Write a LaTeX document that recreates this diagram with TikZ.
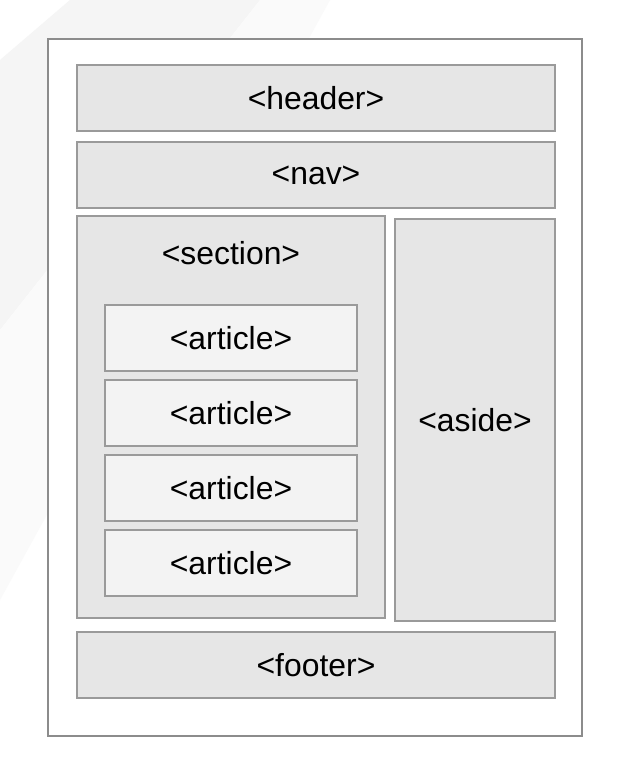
\documentclass[tikz,border=0pt]{standalone}
\usepackage{fontspec}
\setmainfont{Liberation Sans}
\definecolor{boxfill}{HTML}{E6E6E6}
\definecolor{artfill}{HTML}{F3F3F3}
\definecolor{boxline}{HTML}{9A9A9A}
\definecolor{frameline}{HTML}{8C8C8C}
\definecolor{bgshade}{HTML}{F5F5F5}
\definecolor{bgshadeb}{HTML}{FAFAFA}
\begin{document}
\begin{tikzpicture}[x=1bp,y=-1bp,
  box/.style={draw=boxline, fill=boxfill, line width=1.8bp, rectangle, inner sep=0pt, outer sep=0pt},
  artbox/.style={box, fill=artfill},
  lbl/.style={font=\fontsize{32}{36}\selectfont, text=black, inner sep=0pt}]
\useasboundingbox (0,0) rectangle (634,764);
\fill[white] (0,0) rectangle (634,764);
% faint background shading
\fill[bgshade] (0,60) -- (70,0) -- (260,0) -- (0,330) -- cycle;
\fill[bgshadeb] (0,330) -- (260,0) -- (330,0) -- (0,600) -- cycle;
% outer frame
\node[draw=frameline, fill=white, line width=2.6bp, minimum width=534bp, minimum height=697bp, inner sep=0pt] (page) at (315,387.5) {};
% header, nav, footer
\node[box, minimum width=478bp, minimum height=66bp] (header) at (316,98) {};
\node[lbl] (headert) at (header.center) {<header>};
\node[box, minimum width=478bp, minimum height=66bp] (nav) at (316,175) {};
\node[lbl] (navt) at (nav.center) {<nav>};
\node[box, minimum width=478bp, minimum height=66bp] (footer) at (316,665) {};
\node[lbl] (footert) at (footer.center) {<footer>};
% section
\node[box, minimum width=308bp, minimum height=402bp] (section) at (231,417) {};
\node[lbl] (sectiont) at (231,253) {<section>};
% articles
\foreach \i/\y in {1/338, 2/413, 3/488, 4/563} {
  \node[artbox, minimum width=252bp, minimum height=66bp] (art\i) at (231,\y) {};
  \node[lbl] (art\i t) at (art\i.center) {<article>};
}
% aside
\node[box, minimum width=160bp, minimum height=402bp] (aside) at (475,420) {};
\node[lbl] (asidet) at (aside.center) {<aside>};
\end{tikzpicture}
\end{document}
